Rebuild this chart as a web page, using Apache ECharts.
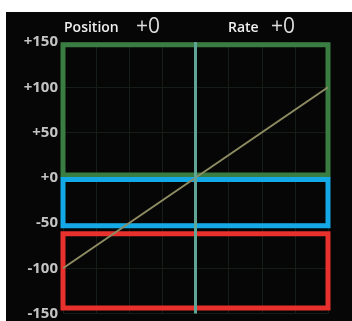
<!DOCTYPE html>
<html>
<head>
<meta charset="utf-8">
<script src="https://cdn.jsdelivr.net/npm/echarts@6/dist/echarts.min.js"></script>
<style>
  html, body { margin: 0; padding: 0; background: #ffffff; }
  #chart { position: absolute; left: 6px; top: 12px; width: 346px; height: 309px; background: #060606; }
</style>
</head>
<body>
<div id="chart"></div>
<script>
// diagonal line (position vs rate)
const lineX = [-100, 100];
const lineY = [-100, 100];

// the three zone boxes
const boxColors = ['#3a7d43', '#13a8e6', '#e8302c'];
const boxTop = [147, -2, -62];
const boxBottom = [3, -53, -144];
const stubY = [70, -24, -124];

const yTicks = [-150, -100, -50, 0, 50, 100, 150];
const headerLabels = ['Position', 'Rate'];
const headerValues = ['+0', '+0'];

var myChart = echarts.init(document.getElementById('chart'));

const stubSeries = stubY.map((y, i) => ({
  type: 'line',
  clip: false,
  symbol: 'none',
  silent: true,
  data: [[100, y], [120, y]],
  lineStyle: { color: boxColors[i], width: 4 },
  z: 3
}));

const option = {
  animation: false,
  grid: { left: 57, right: 24, top: 30, bottom: 7 },
  xAxis: {
    type: 'value',
    min: -100,
    max: 100,
    interval: 25,
    axisLine: { show: false },
    axisTick: { show: false },
    axisLabel: { show: false },
    splitLine: { lineStyle: { color: '#161c16', width: 1 } }
  },
  yAxis: {
    type: 'value',
    min: yTicks[0],
    max: yTicks[yTicks.length - 1],
    interval: 50,
    axisLine: { show: false },
    axisTick: { show: false },
    axisLabel: {
      margin: 5,
      color: '#c4c4c4',
      fontSize: 15,
      fontWeight: 'bold',
      fontFamily: 'Open Sans',
      formatter: v => (v >= 0 ? '+' + v : String(v))
    },
    splitLine: { lineStyle: { color: '#161c16', width: 1 } }
  },
  graphic: [
    { type: 'text', left: 58, top: 9, style: { text: headerLabels[0], fill: '#eeeeee', font: '600 14px "Open Sans"' } },
    { type: 'text', left: 130, top: 5, style: { text: headerValues[0], fill: '#dddddd', font: '21px "Open Sans"' } },
    { type: 'text', left: 222, top: 9, style: { text: headerLabels[1], fill: '#eeeeee', font: '600 14px "Open Sans"' } },
    { type: 'text', left: 265, top: 5, style: { text: headerValues[1], fill: '#dddddd', font: '21px "Open Sans"' } }
  ],
  series: [
    {
      type: 'line',
      symbol: 'none',
      data: lineX.map((x, i) => [x, lineY[i]]),
      lineStyle: { color: '#8e8c62', width: 2 },
      markLine: {
        silent: true,
        symbol: 'none',
        label: { show: false },
        lineStyle: { color: '#5ea596', width: 3, type: 'solid' },
        data: [{ xAxis: 0 }]
      },
      markArea: {
        silent: true,
        data: boxTop.map((t, i) => [
          { xAxis: -100, yAxis: t, itemStyle: { color: 'transparent', borderColor: boxColors[i], borderWidth: 5 } },
          { xAxis: 100, yAxis: boxBottom[i] }
        ])
      },
      z: 2
    },
    ...stubSeries
  ]
};
myChart.setOption(option);
</script>
</body>
</html>
